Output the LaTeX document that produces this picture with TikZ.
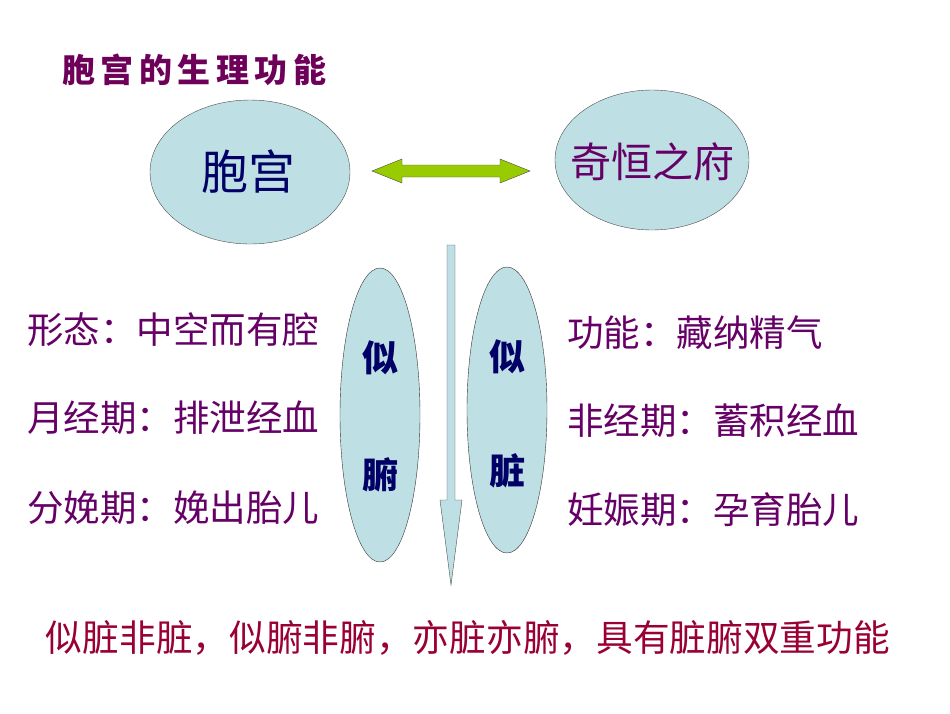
\documentclass[tikz,border=0pt]{standalone}
\usepackage{fontspec}
\newfontfamily\cjk{Noto Sans CJK SC}
\newfontfamily\cjkb{Noto Sans CJK SC Black}
\definecolor{lb}{RGB}{190,224,228}
\definecolor{navy}{RGB}{0,0,102}
\definecolor{pur}{RGB}{102,0,102}
\definecolor{ttl}{RGB}{110,0,90}
\definecolor{rd}{RGB}{153,0,51}
\definecolor{grn}{RGB}{153,204,0}
\begin{document}
\begin{tikzpicture}[x=1pt,y=-1pt,
 lt/.style={anchor=west,text=pur,font=\cjk\fontsize{36.5}{36.5}\selectfont,inner sep=0},
 vt/.style={text=navy,font=\cjkb\fontsize{36}{36}\selectfont}]
\useasboundingbox (0,0) rectangle (950,713);
\node[anchor=west,text=ttl,font=\cjkb\fontsize{33}{33}\selectfont,inner sep=0] (title) at (62,70) {胞\,宫\,的\,生\,理\,功\,能};
\draw[draw=black!70,fill=lb] (250,172) ellipse [x radius=100,y radius=72];
\node[text=navy,font=\cjk\fontsize{47}{47}\selectfont] (bg) at (248,172) {胞宫};
\draw[draw=black!70,fill=lb] (652,160) ellipse [x radius=97,y radius=70];
\node[text=pur,font=\cjk\fontsize{41}{41}\selectfont] (qh) at (652,162) {奇恒之府};
\draw[draw=black!70,fill=grn] (372,171) -- (402,159) -- (402,165) -- (500,165) -- (500,159) -- (530,171) -- (500,183) -- (500,177) -- (402,177) -- (402,183) -- cycle;
\draw[draw=black!70,fill=lb] (447,245) -- (455,245) -- (455,500) -- (462,500) -- (451,585) -- (440,500) -- (447,500) -- cycle;
\draw[draw=black!80,fill=lb] (380,415) ellipse [x radius=40,y radius=147];
\draw[draw=black!80,fill=lb] (507,410) ellipse [x radius=40,y radius=143];
\node[vt] (s1) at (380,358) {似};
\node[vt] (f1) at (380,475) {腑};
\node[vt] (s2) at (507,357) {似};
\node[vt] (z2) at (507,471) {脏};
\node[lt] (l1) at (27,330) {形态：中空而有腔};
\node[lt] (l2) at (27,418) {月经期：排泄经血};
\node[lt] (l3) at (27,508) {分娩期：娩出胎儿};
\node[lt] (r1) at (567,333) {功能：藏纳精气};
\node[lt] (r2) at (567,421) {非经期：蓄积经血};
\node[lt] (r3) at (567,510) {妊娠期：孕育胎儿};
\node[text=rd,font=\cjk\fontsize{36.7}{36.7}\selectfont] (bt) at (468,638) {似脏非脏，似腑非腑，亦脏亦腑，具有脏腑双重功能};
\end{tikzpicture}
\end{document}
